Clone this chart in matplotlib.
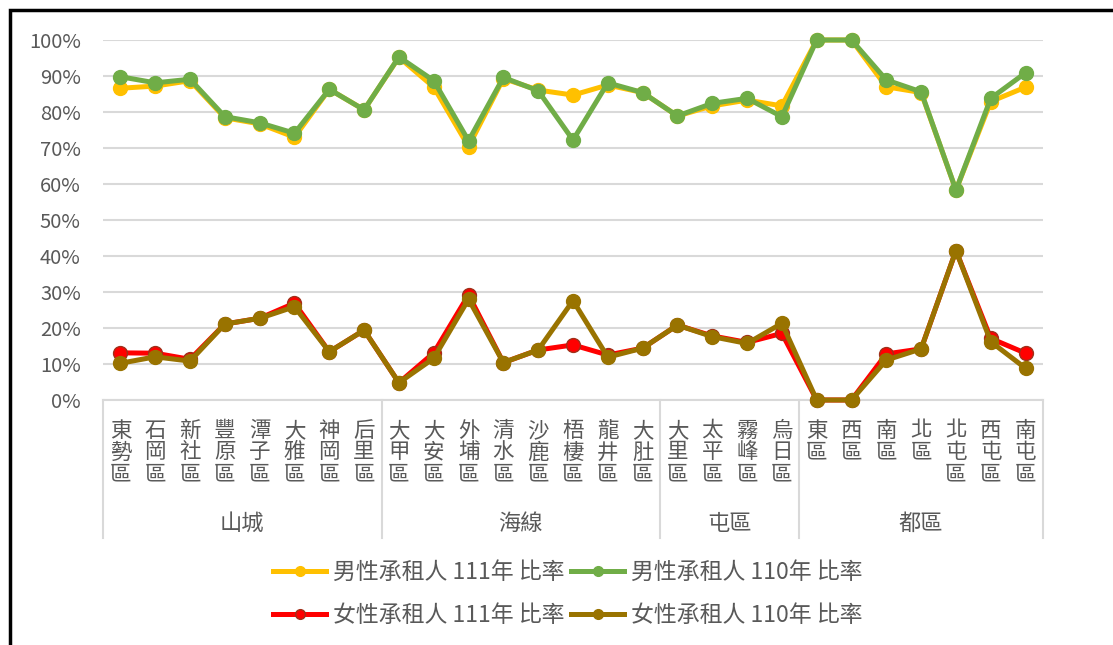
import numpy as np
import matplotlib.pyplot as plt
from matplotlib.patches import Rectangle
from matplotlib.lines import Line2D
from matplotlib.ticker import PercentFormatter

plt.rcParams['font.family'] = ['Noto Sans CJK TC', 'DejaVu Sans']

groups = ['山城', '海線', '屯區', '都區']
group_sizes = [8, 8, 4, 7]
districts = ['東勢區', '石岡區', '新社區', '豐原區', '潭子區', '大雅區', '神岡區', '后里區',
             '大甲區', '大安區', '外埔區', '清水區', '沙鹿區', '梧棲區', '龍井區', '大肚區',
             '大里區', '太平區', '霧峰區', '烏日區',
             '東區', '西區', '南區', '北區', '北屯區', '西屯區', '南屯區']

male_111 = [86.6, 87.2, 88.7, 78.4, 76.7, 73.0, 86.3, 80.6,
            95.2, 86.9, 70.4, 89.3, 86.1, 84.7, 87.5, 85.4,
            78.9, 81.7, 83.3, 81.7,
            100.0, 100.0, 87.0, 85.4, 58.3, 82.9, 86.9]
male_110 = [89.8, 88.1, 89.1, 78.7, 77.0, 74.1, 86.3, 80.6,
            95.3, 88.7, 72.0, 89.6, 85.9, 72.2, 88.1, 85.4,
            78.9, 82.4, 83.8, 78.7,
            100.0, 100.0, 88.9, 85.6, 58.3, 83.8, 90.9]
female_111 = [13.1, 13.0, 11.3, 21.1, 22.7, 26.9, 13.4, 19.4,
              4.8, 13.1, 29.2, 10.4, 13.9, 15.3, 12.5, 14.4,
              20.8, 17.8, 16.0, 18.5,
              0.0, 0.0, 12.8, 14.2, 41.5, 17.1, 13.0]
female_110 = [10.2, 12.0, 10.8, 21.1, 22.7, 25.9, 13.4, 19.4,
              4.8, 11.6, 28.0, 10.4, 13.9, 27.6, 11.9, 14.4,
              20.8, 17.6, 15.7, 21.3,
              0.0, 0.0, 11.1, 14.2, 41.5, 16.2, 8.8]

series = [
    ('男性承租人 111年 比率', male_111, '#FFC000', '#FFC000'),
    ('男性承租人 110年 比率', male_110, '#70AD47', '#70AD47'),
    ('女性承租人 111年 比率', female_111, '#FF0000', '#A0301A'),
    ('女性承租人 110年 比率', female_110, '#997300', '#997300'),
]
text_col = '#595959'

W, H = 1113, 645
fig = plt.figure(figsize=(W / 100, H / 100), dpi=100)
ax = fig.add_axes([103 / W, (H - 400) / H, 940 / W, 360 / H])

x = np.arange(len(districts))
handles = []
for label, vals, col, edge in series:
    ax.plot(x, np.array(vals) / 100, color=col, lw=3.6, marker='o', ms=10,
            mfc=col, mec=edge, mew=1, clip_on=False, zorder=3)
    # smaller markers in the legend, like the original
    handles.append(Line2D([], [], color=col, lw=3.6, marker='o', ms=7,
                          mfc=col, mec=edge, mew=1, label=label))

ax.set_xlim(-0.5, len(districts) - 0.5)
ax.set_ylim(0, 1)
ax.set_yticks(np.arange(0, 1.01, 0.1))
ax.yaxis.set_major_formatter(PercentFormatter(1.0, decimals=0))
ax.tick_params(axis='y', length=0, labelsize=14.5, labelcolor=text_col, pad=16)
ax.set_xticks([])
ax.grid(axis='y', color='#D9D9D9', lw=1.5, zorder=0)
for s in ['top', 'right', 'left']:
    ax.spines[s].set_visible(False)
ax.spines['bottom'].set_color('#D9D9D9')
ax.spines['bottom'].set_linewidth(1.5)

# category labels, written vertically
trans = ax.get_xaxis_transform()
for i, name in enumerate(districts):
    ax.text(i, -0.055, '\n'.join(name), transform=trans, ha='center', va='top',
            fontsize=15.5, color=text_col, linespacing=0.98, fontweight='light')

# group labels and dividers
bounds = np.concatenate([[0], np.cumsum(group_sizes)]) - 0.5
for b in bounds:
    ax.add_line(Line2D([b, b], [0, -0.383], transform=trans, color='#D9D9D9',
                       lw=1.5, clip_on=False))
for g, lo, hi in zip(groups, bounds[:-1], bounds[1:]):
    ax.text((lo + hi) / 2, -0.342, g, transform=trans, ha='center', va='center',
            fontsize=16, color=text_col, fontweight='light')

order = [handles[0], handles[2], handles[1], handles[3]]
leg = fig.legend(order, [h.get_label() for h in order], ncol=2,
                 loc='center', bbox_to_anchor=(568 / W, 1 - 594 / H),
                 frameon=False, fontsize=16.5, handlelength=2.3, handletextpad=0.3,
                 columnspacing=0.3, labelspacing=0.85)
for t in leg.get_texts():
    t.set_color(text_col)
    t.set_fontweight('light')

# outer border of the chart
fig.patches.append(Rectangle((10 / W, -0.2), 1.5, 1.2 - 10 / H, transform=fig.transFigure,
                             fill=False, ec='black', lw=2.5))

fig.savefig('out.png', dpi=100)
